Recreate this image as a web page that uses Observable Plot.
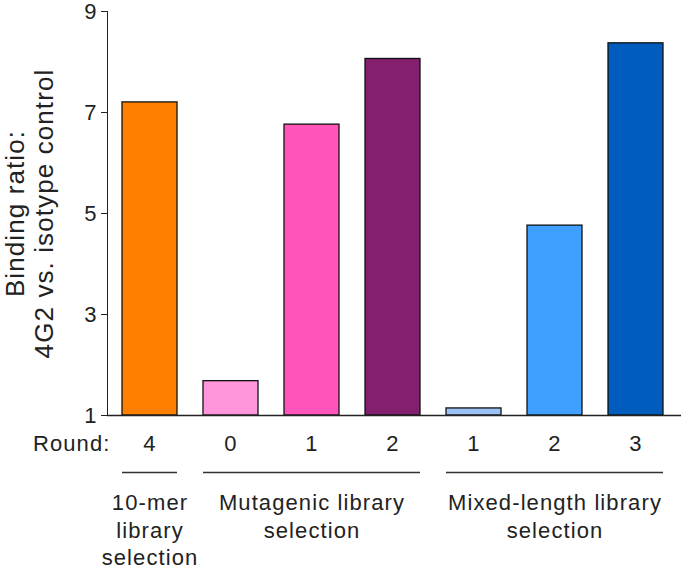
<!DOCTYPE html>
<html><head><meta charset="utf-8">
<script src="https://cdn.jsdelivr.net/npm/d3@7"></script>
<script src="https://cdn.jsdelivr.net/npm/@observablehq/plot@0.6"></script>
<style>
body{margin:0;background:#fff;}
#chart svg text{letter-spacing:1.1px;}
</style></head><body><div id="chart"></div>
<script>
const categories = ["10-mer R4","Mutagenic R0","Mutagenic R1","Mutagenic R2","Mixed R1","Mixed R2","Mixed R3"];
const rounds = ["4","0","1","2","1","2","3"];
const values = [7.20, 1.68, 6.76, 8.06, 1.14, 4.76, 8.37];
const colors = ["#FF8000","#FF96DC","#FF55BB","#841E6E","#9CC2F5","#40A0FF","#005DBE"];
const yTicks = [1,3,5,7,9];
const groupNames = ["10-mer\nlibrary\nselection","Mutagenic library\nselection","Mixed-length library\nselection"];
const groupFirst = [0,1,4];
const groupMid = [0,2,5];
const groupLast = [0,3,6];
const yLabel = "Binding ratio:\n4G2 vs. isotype control";
const roundLabel = "Round:";

const data = categories.map((c,i)=>({category:c, round:rounds[i], value:values[i], color:colors[i]}));
const groups = groupNames.map((g,i)=>({label:g, first:categories[groupFirst[i]], mid:categories[groupMid[i]], last:categories[groupLast[i]]}));
const base = yTicks[0];

const plot = Plot.plot({
  width:681, height:569, marginTop:11, marginBottom:154, marginLeft:107, marginRight:0,
  style:{fontFamily:"'Liberation Sans', Arial, sans-serif", fontSize:"22px", color:"#222", background:"#fff"},
  x:{domain:categories, axis:null, paddingInner:0.3266, paddingOuter:0.1775, align:0.448},
  y:{domain:[yTicks[0], yTicks[yTicks.length-1]], ticks:yTicks, tickSize:6, tickPadding:4, line:true, label:null},
  marks:[
    Plot.barY(data,{x:"category", y1:() => base, y2:"value", fill:"color", stroke:"#111", strokeWidth:1.3}),
    Plot.ruleY([base],{stroke:"#222", strokeWidth:1.5}),
    Plot.text(data,{x:"category", text:"round", frameAnchor:"bottom", dy:28, lineAnchor:"middle", fontSize:22}),
    Plot.text([roundLabel],{frameAnchor:"bottom-left", textAnchor:"end", dx:3, dy:28, lineAnchor:"middle", fontSize:22}),
    Plot.ruleY(groups,{y:() => base, x1:"first", x2:"last", dy:57, stroke:"#333", strokeWidth:1.5}),
    Plot.text(groups,{x:"mid", text:"label", frameAnchor:"bottom", dy:75, lineAnchor:"top", lineHeight:1.25, fontSize:22}),
    Plot.text([yLabel],{frameAnchor:"left", textAnchor:"middle", rotate:-90, dx:-78, lineAnchor:"middle", lineHeight:1.1, fontSize:26})
  ]
});
document.getElementById("chart").append(plot);
</script></body></html>
